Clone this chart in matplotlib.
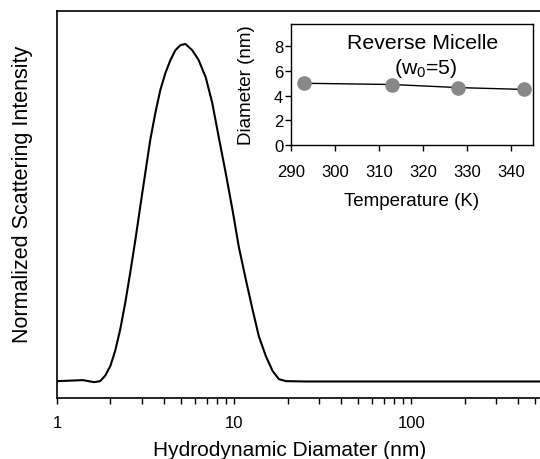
from matplotlib import pyplot as plt
from matplotlib.ticker import LogLocator, NullFormatter, FixedLocator

plt.rcParams['font.family'] = ['Liberation Sans', 'DejaVu Sans']
plt.rcParams['mathtext.default'] = 'regular'

# size distribution (normalized, peak = 100)
diameter_nm = [1.0, 1.40, 1.62, 1.75, 1.87, 2.00, 2.13, 2.275, 2.43, 2.59,
               2.77, 2.95, 3.15, 3.36, 3.59, 3.83, 4.09, 4.37, 4.66, 4.98,
               5.31, 5.79, 6.29, 6.90, 7.52, 8.17, 8.95, 9.77, 10.61, 11.62,
               12.68, 13.77, 15.09, 16.47, 17.87, 19.58, 25.0, 100.0, 582.0]
intensity = [0.0, 0.3, -0.3, 0.0, 1.6, 4.5, 9.0, 15.4, 23.4, 32.2,
             42.0, 51.8, 61.8, 71.6, 79.6, 86.4, 91.4, 95.3, 98.2, 99.7,
             100.0, 98.2, 95.3, 90.2, 82.5, 72.5, 61.8, 50.9, 39.9, 30.2,
             21.3, 13.3, 7.4, 3.0, 0.6, 0.0, -0.1, -0.1, -0.1]

# inset: micelle diameter vs temperature
temperature_K = [293, 313, 328, 343]
micelle_diam = [5.0, 4.9, 4.65, 4.5]

fig = plt.figure(figsize=(5.4, 4.6), dpi=100)

ax = fig.add_axes([57 / 540, 61 / 460, 490 / 540, 387 / 460])
ax.plot(diameter_nm, intensity, color='black', lw=1.5)
ax.set_xscale('log')
ax.set_xlim(1, 582)
ax.set_ylim(-5.0, 109.8)
ax.set_yticks([])
ax.xaxis.set_minor_locator(LogLocator(base=10, subs=range(2, 10)))
ax.xaxis.set_minor_formatter(NullFormatter())
ax.set_xticks([1, 10, 100])
ax.set_xticklabels(['1', '10', '100'])
ax.tick_params(axis='x', which='major', direction='out', length=4, width=1,
               labelsize=12, pad=8)
ax.tick_params(axis='x', which='minor', direction='out', length=4, width=1)
for s in ax.spines.values():
    s.set_linewidth(1.2)
ax.set_xlabel('Hydrodynamic Diamater (nm)', fontsize=15)
ax.xaxis.set_label_coords(0.4755, -0.108)
ax.set_ylabel('Normalized Scattering Intensity', fontsize=15.5)
ax.yaxis.set_label_coords(-0.049, 0.53)

# the inset
ins = fig.add_axes([291 / 540, 314 / 460, 242 / 540, 121 / 460])
ins.plot(temperature_K, micelle_diam, color='black', lw=1, marker='o',
         markersize=9.5, markerfacecolor='#888888', markeredgecolor='#888888')
ins.set_xlim(290, 345)
ins.set_ylim(0, 9.8)
ins.xaxis.set_major_locator(FixedLocator([290, 300, 310, 320, 330, 340]))
ins.set_yticks([0, 2, 4, 6, 8])
ins.tick_params(direction='out', length=4, width=1, labelsize=12)
ins.tick_params(axis='x', pad=10)
ins.tick_params(axis='y', pad=1.5)
for s in ins.spines.values():
    s.set_linewidth(1)
ins.set_xlabel('Temperature (K)', fontsize=13.5)
ins.xaxis.set_label_coords(0.499, -0.388)
ins.set_ylabel('Diameter (nm)', fontsize=13.5)
ins.yaxis.set_label_coords(-0.149, 0.5)
ins.text(0.545, 0.85, 'Reverse Micelle', transform=ins.transAxes,
         ha='center', va='center', fontsize=15.3)
ins.text(0.557, 0.64, '(w$_0$=5)', transform=ins.transAxes,
         ha='center', va='center', fontsize=15.3)

plt.savefig('out.png', dpi=100)
